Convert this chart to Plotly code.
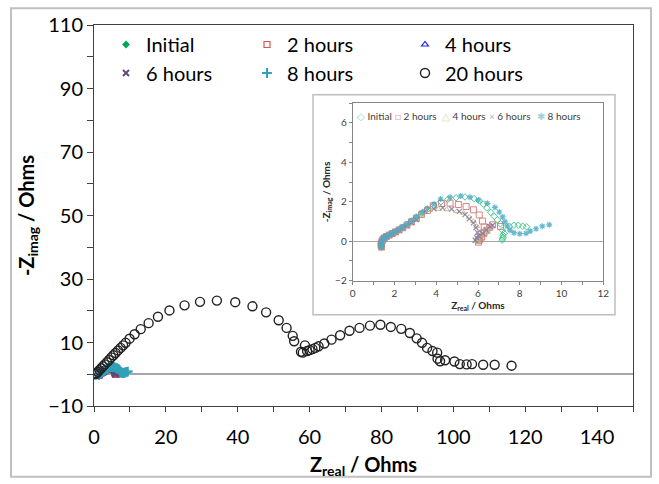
import plotly.graph_objects as go

# ---------------- data (Z_real, -Z_imag in Ohms) ----------------
initial_x = [1.38, 1.36, 1.37, 1.40, 1.45, 1.52, 1.62, 1.75, 1.90, 2.05, 2.22, 2.40, 2.60, 2.82, 3.05, 3.30,
             3.58, 3.88, 4.22, 4.55, 4.95, 5.38, 5.81, 6.06, 6.26, 6.43, 6.61, 6.78, 6.93, 7.07, 7.17, 7.20,
             7.18, 7.15, 7.20, 7.25, 7.50, 7.72, 7.93, 8.14, 8.33]
initial_y = [-0.30, -0.20, -0.10, 0.00, 0.10, 0.18, 0.25, 0.32, 0.40, 0.48, 0.58, 0.70, 0.85, 1.02, 1.22, 1.42,
             1.62, 1.82, 2.00, 2.12, 2.20, 2.24, 2.16, 2.04, 1.88, 1.68, 1.46, 1.26, 1.08, 0.88, 0.55, 0.30,
             0.12, 0.05, 0.20, 0.40, 0.76, 0.81, 0.81, 0.76, 0.73]

h2_x = [1.38, 1.36, 1.37, 1.40, 1.45, 1.52, 1.62, 1.75, 1.90, 2.05, 2.22, 2.40, 2.60, 2.82, 3.05, 3.30,
        3.58, 3.86, 4.26, 4.66, 5.06, 5.43, 5.78, 6.06, 6.22, 6.30, 6.28, 6.18, 6.06, 6.02, 6.05, 6.15,
        6.28, 6.42, 6.56, 6.70, 7.08]
h2_y = [-0.30, -0.21, -0.11, -0.01, 0.09, 0.17, 0.24, 0.31, 0.39, 0.47, 0.57, 0.68, 0.82, 0.98, 1.16, 1.35,
        1.56, 1.79, 1.91, 1.93, 1.86, 1.76, 1.59, 1.33, 1.02, 0.72, 0.45, 0.22, 0.06, -0.05, 0.05, 0.20,
        0.38, 0.55, 0.70, 0.83, 0.75]

h4_x = [1.38, 1.36, 1.37, 1.40, 1.45, 1.52, 1.62, 1.75, 1.90, 2.05, 2.22, 2.40, 2.60, 2.82, 3.05, 3.30,
        3.67, 4.10, 4.50, 4.98, 5.30, 5.58, 5.78, 5.94, 6.02, 5.94, 5.90, 6.05, 6.18, 6.33, 6.49]
h4_y = [-0.30, -0.22, -0.12, -0.02, 0.08, 0.16, 0.23, 0.30, 0.38, 0.46, 0.56, 0.67, 0.80, 0.95, 1.12, 1.30,
        1.56, 1.63, 1.61, 1.51, 1.43, 1.23, 1.01, 0.76, 0.43, 0.13, 0.00, 0.12, 0.27, 0.47, 0.63]

h6_x = [1.38, 1.36, 1.37, 1.40, 1.45, 1.52, 1.62, 1.75, 1.90, 2.05, 2.22, 2.40, 2.60, 2.82, 3.05, 3.46,
        3.89, 4.31, 4.74, 5.11, 5.38, 5.58, 5.78, 5.90, 5.98, 5.94, 5.86, 6.06, 6.22, 6.41, 6.57, 6.70]
h6_y = [-0.30, -0.22, -0.12, -0.02, 0.08, 0.16, 0.23, 0.30, 0.37, 0.45, 0.55, 0.66, 0.79, 0.94, 1.10, 1.51,
        1.64, 1.69, 1.63, 1.51, 1.35, 1.13, 0.93, 0.68, 0.43, 0.18, 0.05, 0.23, 0.40, 0.56, 0.73, 0.81]

h8_x = [1.38, 1.36, 1.37, 1.40, 1.45, 1.52, 1.62, 1.75, 1.90, 2.05, 2.22, 2.40, 2.60, 2.82, 3.05, 3.30,
        3.58, 3.90, 4.21, 4.66, 5.17, 5.62, 6.02, 6.45, 6.81, 7.02, 7.18, 7.29, 7.40, 7.53, 7.72, 8.00,
        8.30, 8.50, 8.78, 9.08, 9.41]
h8_y = [-0.30, -0.20, -0.10, 0.00, 0.10, 0.18, 0.26, 0.33, 0.41, 0.50, 0.60, 0.72, 0.87, 1.04, 1.24, 1.45,
        1.66, 1.88, 2.14, 2.23, 2.29, 2.23, 2.09, 1.92, 1.71, 1.48, 1.23, 0.98, 0.76, 0.56, 0.43, 0.38,
        0.40, 0.51, 0.63, 0.76, 0.83]

h20_x = [0.3, 0.7, 1.1, 1.5, 2.0, 2.5, 3.0, 3.6, 4.2, 4.8, 5.4, 6.0, 6.7, 7.4, 8.1, 8.8, 9.9, 11.3, 13.0,
         15.2, 17.8, 21.0, 25.2, 29.5, 34.2, 39.3, 44.1, 47.9, 51.4, 53.6, 55.3, 55.7, 57.6, 58.1, 58.7,
         59.3, 60.0, 60.8, 61.6, 62.5, 64.1, 66.1, 68.5, 71.1, 73.9, 76.8, 79.7, 82.6, 85.5, 87.9, 89.8,
         91.3, 92.7, 94.2, 95.5, 95.6, 96.3, 97.7, 100.3, 101.8, 103.7, 105.2, 108.3, 111.5, 116.2]
h20_y = [0.0, 0.3, 0.8, 1.3, 1.9, 2.5, 3.1, 3.8, 4.5, 5.3, 6.0, 6.7, 7.5, 8.3, 9.1, 9.9, 11.2, 12.6, 14.2,
         16.1, 18.1, 20.1, 21.7, 22.8, 23.2, 22.7, 21.4, 19.5, 17.0, 14.6, 12.1, 10.4, 7.1, 6.8, 9.1,
         7.3, 7.6, 7.9, 8.3, 8.8, 9.7, 10.9, 12.3, 13.7, 14.6, 15.3, 15.6, 14.9, 14.3, 13.0, 11.3,
         9.9, 8.3, 7.3, 6.8, 4.9, 4.1, 4.4, 4.0, 3.2, 3.1, 3.2, 3.0, 3.0, 2.7]

series_names = ["Initial", "2 hours", "4 hours", "6 hours", "8 hours", "20 hours"]

FONT = "Lato"
L, R, T, B = 94, 26, 22, 74
W, H = 659, 484
pw, ph = W - L - R, H - T - B


def px(xp):
    return (xp - L) / pw


def py(yp):
    return (H - B - yp) / ph


fig = go.Figure()

# ---------------- main chart ----------------
main_styles = [
    dict(symbol="diamond", size=6, color="#00a651"),
    dict(symbol="square-open", size=6, color="#d9534f", line=dict(width=1.2, color="#d9534f")),
    dict(symbol="triangle-up-open", size=6, color="#1f1fff", line=dict(width=1.2, color="#1f1fff")),
    dict(symbol="x-thin", size=6, color="#604a7b", line=dict(width=2, color="#604a7b")),
    dict(symbol="cross-thin", size=7, color="#31a0b9", line=dict(width=2, color="#31a0b9")),
    dict(symbol="circle-open", size=9, color="#222222", line=dict(width=1.4, color="#222222")),
]
main_data = [(initial_x, initial_y), (h2_x, h2_y), (h4_x, h4_y), (h6_x, h6_y), (h8_x, h8_y), (h20_x, h20_y)]
legend_ids = ["legend", "legend2", "legend3", "legend4", "legend5", "legend6"]
for name, (xs, ys), mk, lg in zip(series_names, main_data, main_styles, legend_ids):
    fig.add_trace(go.Scatter(x=xs, y=ys, mode="markers", name=name, marker=mk,
                             xaxis="x", yaxis="y", legend=lg))

# ---------------- inset chart ----------------
inset_styles = [
    dict(symbol="diamond-open", size=5, color="#2ec27e", line=dict(width=1, color="#2ec27e")),
    dict(symbol="square-open", size=6, color="#d0706c", line=dict(width=1, color="#d0706c")),
    dict(symbol="triangle-up-open", size=5, color="#a9c46c", line=dict(width=1, color="#a9c46c")),
    dict(symbol="x-thin", size=5, color="#8a74ad", line=dict(width=1.2, color="#8a74ad")),
    dict(symbol="asterisk-open", size=5, color="#4bacc6", line=dict(width=1.2, color="#4bacc6")),
]
for name, (xs, ys), mk in zip(series_names[:5], main_data[:5], inset_styles):
    fig.add_trace(go.Scatter(x=xs, y=ys, mode="markers", name=name, marker=mk, opacity=0.85,
                             xaxis="x2", yaxis="y2", showlegend=False))

# inset legend (one row, compact) as text keys
inset_glyphs = ["\u25C7", "\u25A1", "\u25B3", "\u00D7", "\u2731"]
inset_key_colors = ["#8fdcb5", "#e3a3a0", "#cddca8", "#b7aacf", "#9fd3e2"]
inset_key_left = [355, 393, 440, 487, 535]
annotations = []
for name, g, c, xl in zip(series_names[:5], inset_glyphs, inset_key_colors, inset_key_left):
    annotations.append(dict(
        xref="paper", yref="paper", x=px(xl), y=py(114.7), xanchor="left", yanchor="middle",
        showarrow=False, align="left",
        text=f"<span style='color:{c}'>{g}</span> {name}",
        font=dict(size=10, family=FONT, color="#404040"),
    ))

# main legends positions (left edge, top edge in pixels)
leg_pos = [(106, 22), (247, 22), (405, 22), (106, 51), (247, 51), (405, 51)]

axis_col = "#404040"
layout = dict(
    width=W, height=H,
    margin=dict(l=L, r=R, t=T, b=B, pad=0),
    paper_bgcolor="white", plot_bgcolor="white",
    font=dict(family=FONT, color="#000000"),
    showlegend=True,
    xaxis=dict(domain=[0, 1], range=[0, 150], tick0=0, dtick=20, ticks="outside", ticklen=5,
               tickcolor=axis_col, tickfont=dict(size=20, family=FONT), ticklabelstandoff=8,
               minor=dict(dtick=10, ticks="outside", ticklen=5, tickcolor=axis_col),
               showline=True, linecolor=axis_col, linewidth=1, mirror=True, showgrid=False,
               zeroline=False, anchor="y",
               title=dict(text="<b>Z<sub>real</sub> / Ohms</b>", font=dict(size=20, family=FONT), standoff=10)),
    yaxis=dict(domain=[0, 1], range=[-10, 110], tick0=-10, dtick=20, ticks="outside", ticklen=6,
               tickcolor=axis_col, tickfont=dict(size=20, family=FONT),
               minor=dict(dtick=10, tick0=0, ticks="outside", ticklen=6, tickcolor=axis_col),
               showline=True, linecolor=axis_col, linewidth=1, mirror=True, showgrid=False,
               zeroline=True, zerolinecolor="#a6a6a6", zerolinewidth=2, anchor="x",
               title=dict(text="<b>-Z<sub>imag</sub> / Ohms</b>", font=dict(size=20, family=FONT), standoff=8)),
    xaxis2=dict(domain=[px(352.7), px(603.3)], range=[0, 12], tick0=0, dtick=2, ticks="outside", ticklen=3,
                tickcolor="#868686", tickfont=dict(size=10, family=FONT, color="#404040"),
                minor=dict(dtick=1, ticks="outside", ticklen=3, tickcolor="#868686"),
                showline=True, linecolor="#868686", linewidth=1, mirror=True, showgrid=False,
                zeroline=False, anchor="y2",
                title=dict(text="<b>Z<sub>real</sub> / Ohms</b>", font=dict(size=10, family=FONT, color="#262626"), standoff=2)),
    yaxis2=dict(domain=[py(282.3), py(101.6)], range=[-2, 7], tick0=0, dtick=2, ticks="outside", ticklen=3,
                tickcolor="#868686", tickfont=dict(size=10, family=FONT, color="#404040"),
                minor=dict(dtick=1, ticks="outside", ticklen=3, tickcolor="#868686"),
                showline=True, linecolor="#868686", linewidth=1, mirror=True, showgrid=False,
                zeroline=True, zerolinecolor="#a6a6a6", zerolinewidth=1, anchor="x2",
                title=dict(text="<b>-Z<sub>imag</sub> / Ohms</b>", font=dict(size=10, family=FONT, color="#262626"), standoff=2)),
    shapes=[
        dict(type="rect", xref="paper", yref="paper", x0=px(11), x1=px(651), y0=py(482), y1=py(5),
             line=dict(color="#c0c0c0", width=2), fillcolor="rgba(0,0,0,0)", layer="below"),
        dict(type="rect", xref="paper", yref="paper", x0=px(313), x1=px(615), y0=py(317), y1=py(93),
             line=dict(color="#bfbfbf", width=1.5), fillcolor="white", layer="below"),
    ],
    annotations=annotations,
)
for lg, (lx, ly) in zip(legend_ids, leg_pos):
    layout[lg] = dict(orientation="h", x=px(lx), y=py(ly), xanchor="left", yanchor="top",
                      bgcolor="rgba(0,0,0,0)", font=dict(size=20, family=FONT, color="#000000"))

fig.update_layout(**layout)
fig.write_html("out.html")
